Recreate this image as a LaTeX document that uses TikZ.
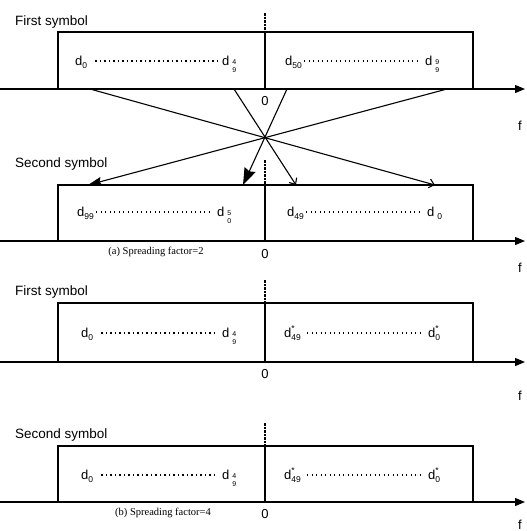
\documentclass[tikz,border=0pt]{standalone}
\usepackage{fontspec}
\setmainfont{Liberation Sans}
\newfontfamily\capfont{Liberation Serif}
\usetikzlibrary{arrows.meta,calc}

% data label pieces
\newcommand{\sx}[1]{\raisebox{-3pt}{\fontsize{8.5}{9}\selectfont #1}}
\newcommand{\stk}[2]{\kern3pt\raisebox{-7pt}{\fontsize{7}{10.5}\selectfont\shortstack{#1\\#2}}}
\newcommand{\cj}[1]{\raisebox{-3pt}{\fontsize{8.5}{9.5}\selectfont\shortstack[l]{*\\#1}}}

\tikzset{
  axisline/.style={line width=1.2pt,-{Triangle[length=10pt,width=8pt]}},
  bandbox/.style={line width=1.1pt},
  midsolid/.style={line width=1.1pt},
  middash/.style={line width=1.1pt,dash pattern=on 2.5pt off 1pt},
  dlabel/.style={inner sep=0pt,anchor=base west,font=\fontsize{13}{14}\selectfont},
  dotrow/.style={line width=1.4pt,dash pattern=on 1.3pt off 3.2pt},
  symlabel/.style={inner sep=0pt,anchor=base west,font=\fontsize{13.5}{14}\selectfont},
  zerolabel/.style={inner sep=0pt,font=\fontsize{13}{14}\selectfont},
  flabel/.style={inner sep=0pt,font=\fontsize{13}{14}\selectfont},
  caption/.style={inner sep=0pt,font=\capfont\fontsize{10.5}{11}\selectfont},
  crossline/.style={line width=1.1pt},
  bigtip/.style={crossline,-{Stealth[length=14pt,width=9pt,inset=2pt]}},
  midtip/.style={crossline,-{Stealth[length=17pt,width=12pt,inset=2pt]}},
  opentip/.style={crossline,-{Straight Barb[length=5pt,width=9pt]}}
}

\begin{document}
\begin{tikzpicture}[x=1pt,y=-1pt]
\useasboundingbox (0,0) rectangle (527,531);

% ---------- (a) first symbol ----------
\node[symlabel] (t1) at (15,25) {First symbol};
\draw[bandbox] (58,89) -- (58,32) -- (473,32) -- (473,89);
\draw[middash] (265,13) -- (265,32);
\draw[midsolid] (265,32) -- (265,89);
\coordinate (a1l) at (0,89);
\coordinate (a1r) at (525,89);
\draw[axisline] (a1l) -- (a1r);
\node[zerolabel] (z1) at (265,101) {0};
\node[flabel] (f1) at (520,126) {f};
\node[dlabel] (p1a) at (75,65) {d\sx{0}};
\node[dlabel] (p1b) at (222,65) {d\stk{4}{9}};
\node[dlabel] (p1c) at (285,65) {d\sx{50}};
\node[dlabel] (p1d) at (425,65) {d\stk{9}{9}};
\draw[dotrow] ($(p1a.base east)+(8,-4)$) -- ($(p1b.base west)+(-4,-4)$);
\draw[dotrow] ($(p1c.base east)+(2,-4)$) -- ($(p1d.base west)+(-4,-4)$);

% ---------- reordering between the two symbols ----------
\coordinate (s1) at (90,89);
\coordinate (s2) at (234,89);
\coordinate (s3) at (287,89);
\coordinate (s4) at (447,89);
\coordinate (e1) at (88,185);
\coordinate (e2) at (243,185);
\coordinate (e3) at (296,185);
\coordinate (e4) at (435,185);
\draw[bigtip] (s4) -- (e1);
\draw[midtip] (s3) -- (e2);
\draw[opentip] (s2) -- (e3);
\draw[opentip] (s1) -- (e4);

% ---------- (a) second symbol ----------
\node[symlabel] (t2) at (15,167) {Second symbol};
\draw[bandbox] (58,241) -- (58,185) -- (473,185) -- (473,241);
\draw[middash] (265,160) -- (265,185);
\draw[midsolid] (265,185) -- (265,241);
\coordinate (a2l) at (0,241);
\coordinate (a2r) at (525,241);
\draw[axisline] (a2l) -- (a2r);
\node[zerolabel] (z2) at (265,254) {0};
\node[flabel] (f2) at (520,268) {f};
\node[caption] (c1) at (156,252) {(a) Spreading factor=2};
\node[dlabel] (p2a) at (77,216) {d\sx{99}};
\node[dlabel] (p2b) at (217,216) {d\stk{5}{0}};
\node[dlabel] (p2c) at (287,216) {d\sx{49}};
\node[dlabel] (p2d) at (427,216) {d\kern3pt\sx{0}};
\draw[dotrow] ($(p2a.base east)+(2,-4)$) -- ($(p2b.base west)+(-4,-4)$);
\draw[dotrow] ($(p2c.base east)+(2,-4)$) -- ($(p2d.base west)+(-4,-4)$);

% ---------- (b) first symbol ----------
\node[symlabel] (t3) at (15,295) {First symbol};
\draw[bandbox] (58,362) -- (58,303) -- (473,303) -- (473,362);
\draw[middash] (265,280) -- (265,303);
\draw[midsolid] (265,303) -- (265,362);
\coordinate (a3l) at (0,362);
\coordinate (a3r) at (525,362);
\draw[axisline] (a3l) -- (a3r);
\node[zerolabel] (z3) at (265,374) {0};
\node[flabel] (f3) at (520,396) {f};
\node[dlabel] (p3a) at (81,337) {d\sx{0}};
\node[dlabel] (p3b) at (222,337) {d\stk{4}{9}};
\node[dlabel] (p3c) at (284,337) {d\cj{49}};
\node[dlabel] (p3d) at (428,337) {d\cj{0}};
\draw[dotrow] ($(p3a.base east)+(8,-4)$) -- ($(p3b.base west)+(-4,-4)$);
\draw[dotrow] ($(p3c.base east)+(6,-4)$) -- ($(p3d.base west)+(-6,-4)$);

% ---------- (b) second symbol ----------
\node[symlabel] (t4) at (15,438) {Second symbol};
\draw[bandbox] (58,502) -- (58,446) -- (473,446) -- (473,502);
\draw[middash] (265,423) -- (265,446);
\draw[midsolid] (265,446) -- (265,502);
\coordinate (a4l) at (0,502);
\coordinate (a4r) at (525,502);
\draw[axisline] (a4l) -- (a4r);
\node[zerolabel] (z4) at (265,514) {0};
\node[flabel] (f4) at (520,525) {f};
\node[caption] (c2) at (163,513) {(b) Spreading factor=4};
\node[dlabel] (p4a) at (81,479) {d\sx{0}};
\node[dlabel] (p4b) at (222,479) {d\stk{4}{9}};
\node[dlabel] (p4c) at (284,479) {d\cj{49}};
\node[dlabel] (p4d) at (428,479) {d\cj{0}};
\draw[dotrow] ($(p4a.base east)+(8,-4)$) -- ($(p4b.base west)+(-4,-4)$);
\draw[dotrow] ($(p4c.base east)+(6,-4)$) -- ($(p4d.base west)+(-6,-4)$);
\end{tikzpicture}
\end{document}
